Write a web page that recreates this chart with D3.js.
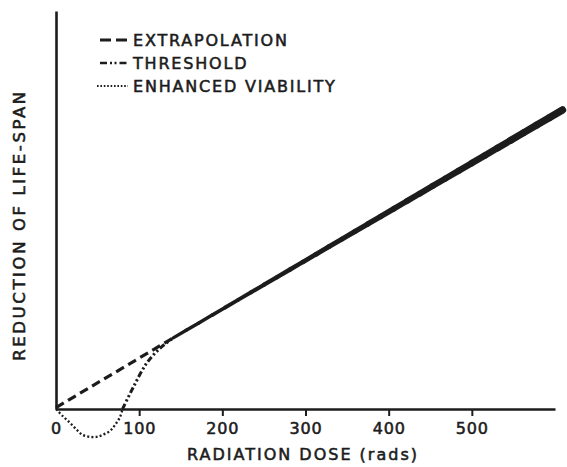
<!DOCTYPE html>
<html>
<head>
<meta charset="utf-8">
<script src="https://cdn.jsdelivr.net/npm/d3@7"></script>
<style>
  html, body { margin: 0; padding: 0; background: #fff; }
  svg { display: block; }
  text { font-family: "DejaVu Sans", sans-serif; fill: #1c1c1c; stroke: #1c1c1c; stroke-width: 0.55px; }
</style>
</head>
<body>
<svg id="chart" width="567" height="467"></svg>
<script>
// Radiation dose (rads) against reduction of life-span (arbitrary units)
const doseTicks = [0, 100, 200, 300, 400, 500];
const tickLabels = ["0", "100", "200", "300", "400", "500"];

// Observed linear response at high doses
const observedDose = [141, 609];
const observedReduction = [143, 601];

// Linear extrapolation back to zero dose
const extrapDose = [0, 141];
const extrapReduction = [3, 143];

// Threshold model: no effect until ~80 rads, then rising into the observed line
const thresholdDose = [80, 93, 109, 125, 141];
const thresholdReduction = [0, 44, 92, 122, 143];

// Enhanced viability at low doses (negative reduction)
const viabilityDose = [0, 8, 17, 25, 32, 41, 49, 56, 65, 71, 77, 80];
const viabilityReduction = [0, -14, -28, -42, -52, -56, -56, -52, -44, -32, -16, 0];

const legendLabels = ["EXTRAPOLATION", "THRESHOLD", "ENHANCED VIABILITY"];

const ink = "#1c1c1c";
const svg = d3.select("#chart");

const x = d3.scaleLinear().domain([0, 600]).range([56, 555]);
const y = d3.scaleLinear().domain([0, 800]).range([409, 11]);

// X axis with downward ticks
const xAxis = d3.axisBottom(x)
  .tickValues(doseTicks)
  .tickFormat((d, i) => tickLabels[i])
  .tickSize(7)
  .tickPadding(7)
  .tickSizeOuter(0);

const gx = svg.append("g").attr("transform", `translate(0,${y(0)})`).call(xAxis);
gx.select(".domain").attr("stroke", ink).attr("stroke-width", 2.6);
gx.selectAll(".tick line").attr("stroke", ink).attr("stroke-width", 2)
  .filter(d => d === 0).remove();
gx.selectAll(".tick text")
  .attr("font-size", 16)
  .attr("letter-spacing", 0.8)
  .attr("font-family", "DejaVu Sans, sans-serif")
  .attr("fill", ink);

// Y axis: plain line, no ticks
const yAxis = d3.axisLeft(y).tickValues([]).tickSizeOuter(0);
const gy = svg.append("g").attr("transform", `translate(${x(0)},0)`).call(yAxis);
gy.select(".domain").attr("stroke", ink).attr("stroke-width", 2.6);

// Axis titles
svg.append("text")
  .attr("x", 303).attr("y", 460)
  .attr("text-anchor", "middle")
  .attr("font-size", 16)
  .attr("letter-spacing", 2.0)
  .text("RADIATION DOSE (rads)");

svg.append("text")
  .attr("transform", "translate(25,225) rotate(-90)")
  .attr("text-anchor", "middle")
  .attr("font-size", 16.5)
  .attr("letter-spacing", 2.6)
  .text("REDUCTION OF LIFE-SPAN");

const plot = svg.append("g");

// Extrapolation (dashed)
const linear = d3.line().x(d => x(d[0])).y(d => y(d[1]));
plot.append("path")
  .datum(d3.zip(extrapDose, extrapReduction))
  .attr("d", linear)
  .attr("fill", "none").attr("stroke", ink)
  .attr("stroke-width", 3.2).attr("stroke-dasharray", "9,5");

// Threshold (dash-dot-dot)
const smooth = d3.line().x(d => x(d[0])).y(d => y(d[1])).curve(d3.curveCatmullRom);
plot.append("path")
  .datum(d3.zip(thresholdDose, thresholdReduction))
  .attr("d", smooth)
  .attr("fill", "none").attr("stroke", ink)
  .attr("stroke-width", 3).attr("stroke-dasharray", "6,2.5,2.2,2.5,2.2,2.5");

// Enhanced viability (dotted)
plot.append("path")
  .datum(d3.zip(viabilityDose, viabilityReduction))
  .attr("d", smooth)
  .attr("fill", "none").attr("stroke", ink)
  .attr("stroke-width", 2.3).attr("stroke-dasharray", "2,2.2");

// Observed response: solid line thickening with dose
const nSeg = 30;
const d0 = observedDose[0], d1 = observedDose[1];
const r = d3.scaleLinear().domain(observedDose).range(observedReduction);
const w = d3.scaleLinear().domain(observedDose).range([3.2, 7.5]);
const segs = d3.range(nSeg).map(i => {
  const a = d0 + (d1 - d0) * i / nSeg;
  const b = d0 + (d1 - d0) * (i + 1) / nSeg;
  return { a, b };
});
plot.selectAll("line.obs").data(segs).join("line")
  .attr("class", "obs")
  .attr("x1", s => x(s.a)).attr("y1", s => y(r(s.a)))
  .attr("x2", s => x(s.b)).attr("y2", s => y(r(s.b)))
  .attr("stroke", ink)
  .attr("stroke-width", s => w((s.a + s.b) / 2))
  .attr("stroke-linecap", "round");

// Legend
const legend = svg.append("g").attr("transform", "translate(100,39)");
const styles = [
  { dash: "11,5", width: 3, x0: 0 },
  { dash: "7,3,2,2.5,2,3", width: 2.6, x0: 0 },
  { dash: "1.6,1.8", width: 1.8, x0: -3 }
];
legendLabels.forEach((label, i) => {
  const g = legend.append("g").attr("transform", `translate(0,${i * 23})`);
  g.append("line")
    .attr("x1", styles[i].x0).attr("x2", 28).attr("y1", 1).attr("y2", 1)
    .attr("stroke", ink).attr("stroke-width", styles[i].width)
    .attr("stroke-dasharray", styles[i].dash);
  g.append("text")
    .attr("x", 33).attr("y", 6.5)
    .attr("font-size", 16)
    .attr("letter-spacing", 1.8)
    .text(label);
});
</script>
</body>
</html>
